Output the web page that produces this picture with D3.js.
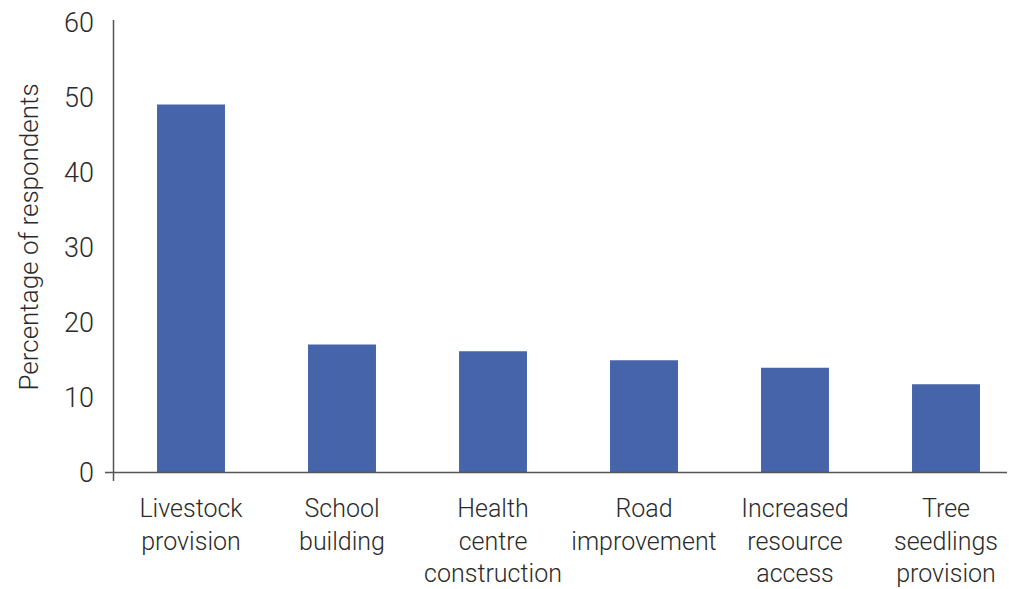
<!DOCTYPE html>
<html><head><meta charset="utf-8">
<script src="https://cdn.jsdelivr.net/npm/d3@7"></script>
<style>body{margin:0;background:#fff}svg text{font-family:Roboto,sans-serif;font-weight:300;fill:#2a2a2a}</style>
</head><body>
<svg id="c" width="1009" height="589"></svg>
<script>
const categories = [["Livestock","provision"],["School","building"],["Health","centre","construction"],["Road","improvement"],["Increased","resource","access"],["Tree","seedlings","provision"]];
const values = [49, 17, 16.1, 14.9, 13.9, 11.7];
const yTicks = [0,10,20,30,40,50,60];
const yTitle = "Percentage of respondents";

const svg = d3.select("#c");
const x = d3.scaleBand().domain(d3.range(categories.length)).range([115.5,1021.5]).paddingInner(0.55).paddingOuter(0.275);
const y = d3.scaleLinear().domain([0,60]).range([472,22]);

svg.selectAll("rect.bar").data(values).join("rect").attr("class","bar")
  .attr("x",(d,i)=>x(i)).attr("width",x.bandwidth())
  .attr("y",d=>y(d)).attr("height",d=>y(0)-y(d)).attr("fill","#4664aa");

svg.append("line").attr("x1",113.5).attr("x2",113.5).attr("y1",20).attr("y2",481).attr("stroke","#555").attr("stroke-width",1.5);
svg.append("line").attr("x1",105).attr("x2",1007).attr("y1",472.5).attr("y2",472.5).attr("stroke","#555").attr("stroke-width",1.5);

svg.selectAll("text.yt").data(yTicks).join("text").attr("class","yt")
  .attr("x",94).attr("y",d=>y(d)).attr("dy","0.36em").attr("text-anchor","end")
  .style("font-size","27px").text(d=>d);

const lab = svg.selectAll("text.xl").data(categories).join("text").attr("class","xl")
  .attr("text-anchor","middle").style("font-size","25px");
lab.selectAll("tspan").data((d,i)=>d.map(s=>({s,i}))).join("tspan")
  .attr("x",d=>x(d.i)+x.bandwidth()/2).attr("y",(d,j)=>517+j*32.5).text(d=>d.s);

svg.append("text").attr("transform","translate(38,237) rotate(-90)").attr("text-anchor","middle")
  .style("font-size","26px").text(yTitle);
</script>
</body></html>
